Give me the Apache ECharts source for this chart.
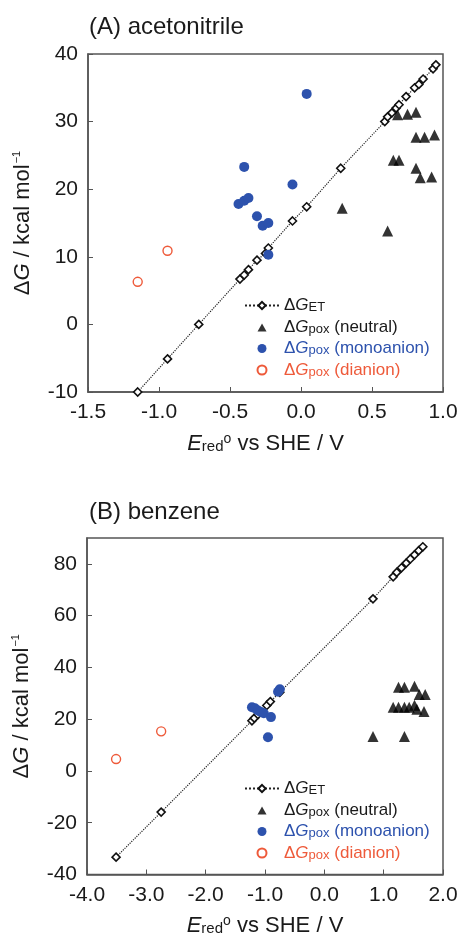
<!DOCTYPE html>
<html lang="en">
<head>
<meta charset="UTF-8">
<title>ΔG vs Ered</title>
<script src="https://cdn.jsdelivr.net/npm/echarts@6/dist/echarts.min.js"></script>
<style>
  html, body { margin: 0; padding: 0; background: #fff; }
  #chart { width: 461px; height: 938px; }
</style>
</head>
<body>
<div id="chart"></div>
<script>
// (A) acetonitrile  [Ered, dG]
var etA = [[-1.15,-10.0],[-0.94,-5.1],[-0.72,0.0],[-0.43,6.7],[-0.40,7.3],[-0.37,8.1],[-0.31,9.5],
  [-0.25,10.5],[-0.23,11.3],[-0.06,15.3],[0.04,17.4],[0.28,23.1],[0.59,30.0],[0.61,30.7],[0.64,31.3],
  [0.67,32.0],[0.69,32.5],[0.74,33.7],[0.80,35.0],[0.83,35.5],[0.86,36.3],[0.93,37.8],[0.95,38.4]];
var neutralA = [[0.68,31.0],[0.75,31.1],[0.81,31.4],[0.81,27.7],[0.87,27.7],[0.94,28.0],[0.65,24.3],
  [0.69,24.3],[0.81,23.1],[0.84,21.7],[0.92,21.8],[0.29,17.2],[0.61,13.8]];
var monoA = [[0.04,34.1],[-0.40,23.3],[-0.06,20.7],[-0.44,17.8],[-0.40,18.3],[-0.37,18.7],[-0.31,16.0],
  [-0.27,14.6],[-0.23,15.0],[-0.23,10.3]];
var diA = [[-1.15,6.3],[-0.94,10.9]];

// (B) benzene
var etB = [[-3.51,-33.3],[-2.75,-15.9],[-1.22,19.4],[-1.18,20.4],[-1.12,21.8],[-0.97,25.3],[-0.91,26.8],
  [-0.75,30.4],[0.82,66.5],[1.16,75.0],[1.22,76.7],[1.30,78.5],[1.38,80.3],[1.45,81.9],[1.52,83.5],
  [1.59,85.1],[1.66,86.6]];
var neutralB = [[0.82,13.3],[1.35,13.3],[1.16,24.6],[1.25,24.6],[1.35,24.6],[1.43,24.6],[1.52,25.4],
  [1.56,23.8],[1.68,23.0],[1.25,32.3],[1.35,32.3],[1.52,32.7],[1.60,29.5],[1.70,29.5]];
var monoB = [[-1.22,24.6],[-1.17,24.2],[-1.12,23.4],[-1.07,22.8],[-1.02,22.3],[-0.90,20.8],[-0.95,13.0],
  [-0.78,30.6],[-0.75,31.6]];
var diB = [[-3.51,4.6],[-2.75,15.3]];

var FONT = '"Liberation Sans", Arial, sans-serif';
var INK = '#1a1a1a';
var BLUE = '#2d52ad';
var RED = '#ee5a3a';

var chart = echarts.init(document.getElementById('chart'), null, { renderer: 'canvas' });

// rich styles for legend text, one set per colour
function richSet(prefix, color) {
  var r = {};
  r[prefix + 'd'] = { fontSize: 17, color: color, fontFamily: FONT };
  r[prefix + 'g'] = { fontSize: 17, color: color, fontFamily: FONT, fontStyle: 'italic' };
  r[prefix + 's'] = { fontSize: 13, color: color, fontFamily: FONT, padding: [4, 0, 0, 0] };
  r[prefix + 'n'] = { fontSize: 17, color: color, fontFamily: FONT };
  return r;
}
var legendRich = Object.assign({}, richSet('k', INK), richSet('b', BLUE), richSet('r', RED));

function legendText(name) {
  var kind = name.split('_')[0];
  if (kind === 'et') return '{kd|Δ}{kg|G}{ks|ET}';
  if (kind === 'neu') return '{kd|Δ}{kg|G}{ks|pox}{kn| (neutral)}';
  if (kind === 'mono') return '{bd|Δ}{bg|G}{bs|pox}{bn| (monoanion)}';
  return '{rd|Δ}{rg|G}{rs|pox}{rn| (dianion)}';
}

// small triangle centred in a 34x9 box so the legend does not stretch it
var triIcon = 'path://M0,0L0,0M34,9L34,9M12.5,9L17,1L21.5,9Z';

var axisLabelStyle = { fontSize: 21, color: INK, fontFamily: FONT };

var yName = '{d|Δ}{g|G}{n| / kcal mol}{sup|−1}';
var yNameStyle = {
  rich: {
    d: { fontSize: 22, color: INK, fontFamily: FONT },
    g: { fontSize: 22, color: INK, fontFamily: FONT, fontStyle: 'italic' },
    n: { fontSize: 22, color: INK, fontFamily: FONT },
    sup: { fontSize: 11, color: INK, fontFamily: FONT, verticalAlign: 'top', padding: [0, 0, 13, 1] }
  }
};
var xName = '{i|E}{sub|red}{sup|o}{n| vs SHE / V}';
var xNameStyle = {
  rich: {
    i: { fontSize: 22, color: INK, fontFamily: FONT, fontStyle: 'italic' },
    sub: { fontSize: 15, color: INK, fontFamily: FONT, padding: [6, 0, 0, 0] },
    sup: { fontSize: 14, color: INK, fontFamily: FONT, padding: [0, 0, 9, 0] },
    n: { fontSize: 22, color: INK, fontFamily: FONT }
  }
};

function xAxisFor(idx, min, max, step) {
  return {
    gridIndex: idx, type: 'value', min: min, max: max, interval: step,
    axisLine: { show: true, onZero: false, lineStyle: { color: '#555', width: 1.5 } },
    axisTick: { show: true, inside: true, length: 5, lineStyle: { color: '#555' } },
    axisLabel: Object.assign({ margin: 10, formatter: function (v) { return v.toFixed(1); } }, axisLabelStyle),
    splitLine: { show: false },
    name: xName, nameLocation: 'middle', nameGap: 40, nameTextStyle: xNameStyle
  };
}
function yAxisFor(idx, min, max, step) {
  return {
    gridIndex: idx, type: 'value', min: min, max: max, interval: step,
    axisLine: { show: true, onZero: false, lineStyle: { color: '#555', width: 1.5 } },
    axisTick: { show: true, inside: true, length: 5, lineStyle: { color: '#555' } },
    axisLabel: Object.assign({ margin: 10, showMaxLabel: (max - min) % step === 0 }, axisLabelStyle),
    splitLine: { show: false },
    name: yName, nameLocation: 'middle', nameGap: 53, nameTextStyle: yNameStyle
  };
}

function seriesFor(tag, idx, et, neu, mono, di) {
  return [
    { name: 'et_' + tag, type: 'line', xAxisIndex: idx, yAxisIndex: idx, data: et, z: 1,
      symbol: 'diamond', symbolSize: 8, showSymbol: true,
      lineStyle: { color: '#222', width: 1.2, type: 'dotted' },
      itemStyle: { color: '#fff', borderColor: '#111', borderWidth: 1.6 } },
    { name: 'neu_' + tag, type: 'scatter', xAxisIndex: idx, yAxisIndex: idx, data: neu, z: 2,
      symbol: 'triangle', symbolSize: 11, itemStyle: { color: '#000' } },
    { name: 'mono_' + tag, type: 'scatter', xAxisIndex: idx, yAxisIndex: idx, data: mono, z: 3,
      symbol: 'circle', symbolSize: 10, itemStyle: { color: BLUE, opacity: 1 } },
    { name: 'di_' + tag, type: 'scatter', xAxisIndex: idx, yAxisIndex: idx, data: di, z: 3,
      symbol: 'circle', symbolSize: 9,
      itemStyle: { color: '#fff', borderColor: RED, borderWidth: 1.4, opacity: 1 } }
  ];
}

function legendFor(tag, top) {
  return {
    orient: 'vertical', left: 244, top: top, padding: 0,
    itemWidth: 34, itemHeight: 9, itemGap: 4.5,
    selectedMode: false, formatter: legendText,
    textStyle: { rich: legendRich, padding: [0, 0, 0, 0] },
    data: [
      'et_' + tag,
      { name: 'neu_' + tag, icon: triIcon, itemStyle: { color: '#000' } },
      { name: 'mono_' + tag, icon: 'circle' },
      { name: 'di_' + tag, icon: 'circle' }
    ]
  };
}

var option = {
  backgroundColor: '#fff',
  animation: false,
  title: [
    { text: '(A) acetonitrile', left: 84, top: 10,
      textStyle: { fontSize: 24, fontWeight: 'normal', color: INK, fontFamily: FONT } },
    { text: '(B) benzene', left: 84, top: 495,
      textStyle: { fontSize: 24, fontWeight: 'normal', color: INK, fontFamily: FONT } }
  ],
  grid: [
    { left: 88, top: 54, width: 355, height: 338, show: true, borderColor: '#555', borderWidth: 1.5 },
    { left: 87, top: 538, width: 356, height: 337, show: true, borderColor: '#555', borderWidth: 1.5 }
  ],
  xAxis: [xAxisFor(0, -1.5, 1.0, 0.5), xAxisFor(1, -4, 2, 1)],
  yAxis: [yAxisFor(0, -10, 40, 10), yAxisFor(1, -40, 90, 20)],
  legend: [legendFor('a', 297), legendFor('b', 780)],
  series: seriesFor('a', 0, etA, neutralA, monoA, diA)
    .concat(seriesFor('b', 1, etB, neutralB, monoB, diB))
};

chart.setOption(option);
</script>
</body>
</html>
